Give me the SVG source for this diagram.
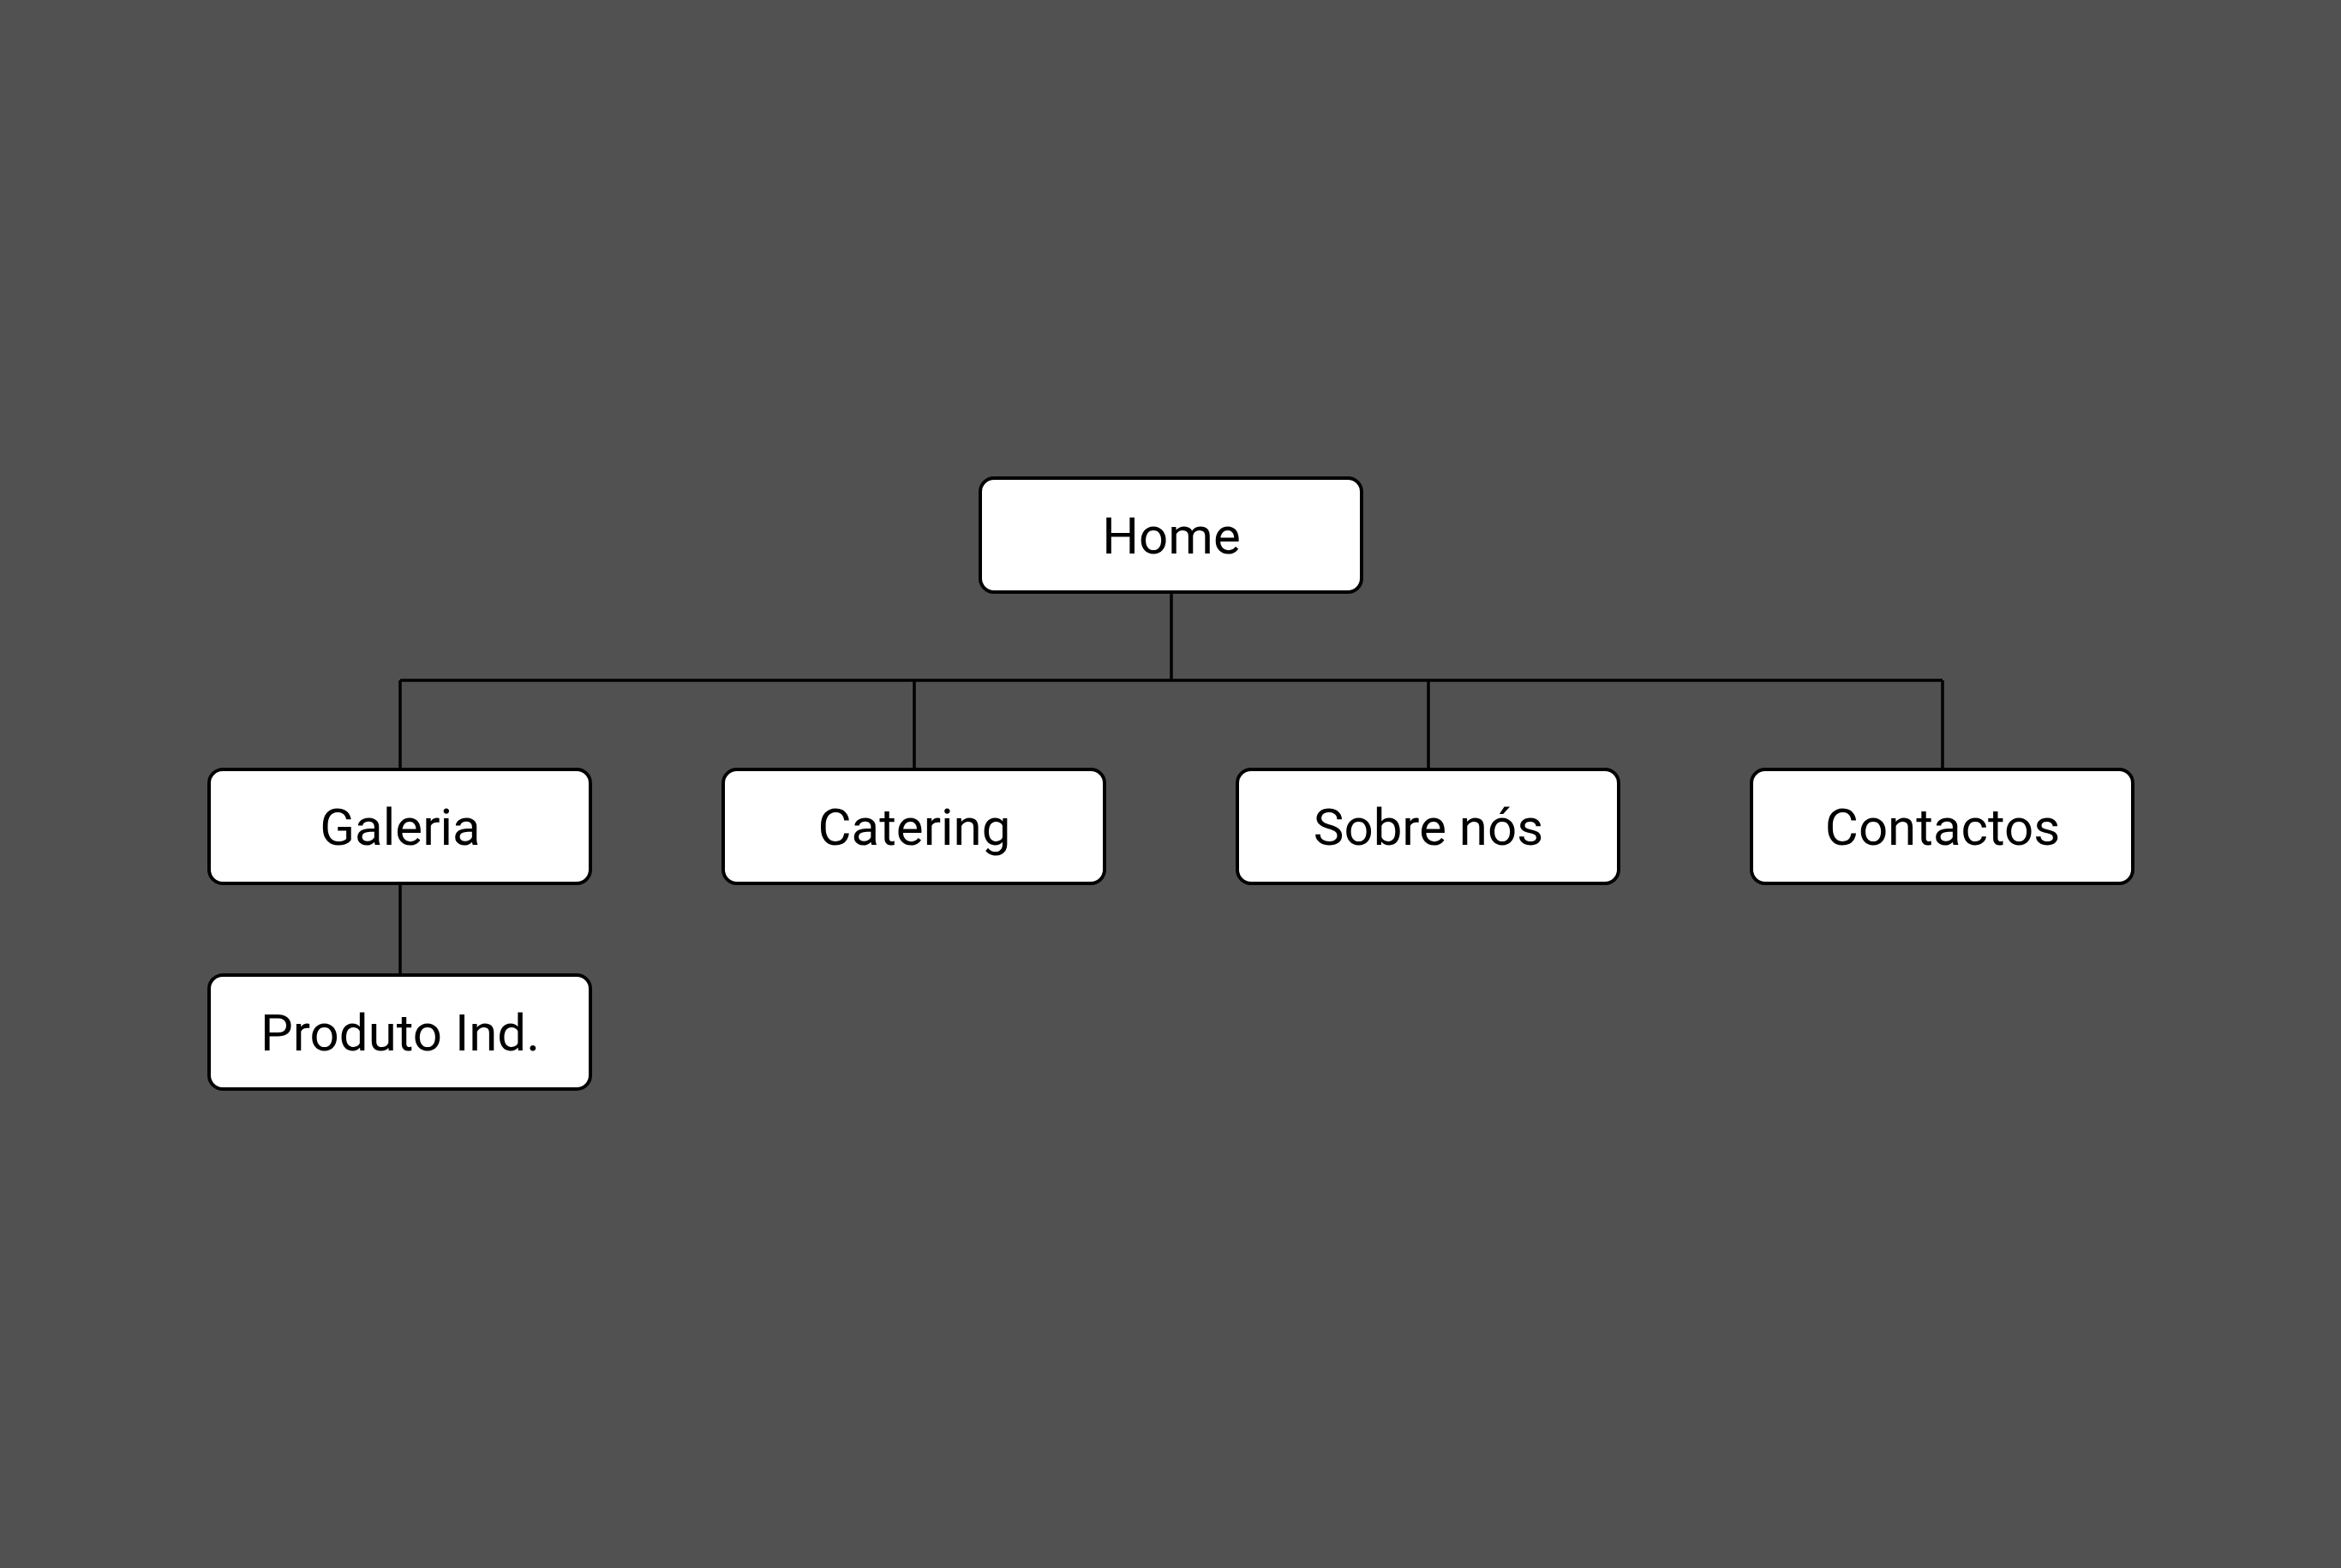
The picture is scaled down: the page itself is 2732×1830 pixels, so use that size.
<svg xmlns="http://www.w3.org/2000/svg" width="2732" height="1830" viewBox="0 0 2732 1830">
<style>
.box{fill:#ffffff;stroke:#000000;stroke-width:4}
.lbl{font-family:Roboto,"Liberation Sans",sans-serif;font-size:60px;fill:#000000;text-anchor:middle}
.conn{stroke:#000000;stroke-width:3.5;fill:none}
</style>
<rect width="2732" height="1830" fill="#515151"/>
<g id="connectors">
<line class="conn" x1="1367" y1="692" x2="1367" y2="794"/>
<line class="conn" x1="467" y1="794" x2="2267" y2="794"/>
<line class="conn" x1="467" y1="794" x2="467" y2="897"/>
<line class="conn" x1="1067" y1="794" x2="1067" y2="897"/>
<line class="conn" x1="1667" y1="794" x2="1667" y2="897"/>
<line class="conn" x1="2267" y1="794" x2="2267" y2="897"/>
<line class="conn" x1="467" y1="1032" x2="467" y2="1137"/>
</g>
<g id="home"><rect class="box" x="1144" y="558" width="445" height="133" rx="16"/><text class="lbl" x="1367" y="646">Home</text></g>
<g id="galeria"><rect class="box" x="244" y="898" width="445" height="133" rx="16"/><text class="lbl" x="467" y="986">Galeria</text></g>
<g id="catering"><rect class="box" x="844" y="898" width="445" height="133" rx="16"/><text class="lbl" x="1067" y="986">Catering</text></g>
<g id="sobre"><rect class="box" x="1444" y="898" width="445" height="133" rx="16"/><text class="lbl" x="1667" y="986">Sobre nós</text></g>
<g id="contactos"><rect class="box" x="2044" y="898" width="445" height="133" rx="16"/><text class="lbl" x="2267" y="986">Contactos</text></g>
<g id="produto"><rect class="box" x="244" y="1138" width="445" height="133" rx="16"/><text class="lbl" x="467" y="1226">Produto Ind.</text></g>
</svg>
